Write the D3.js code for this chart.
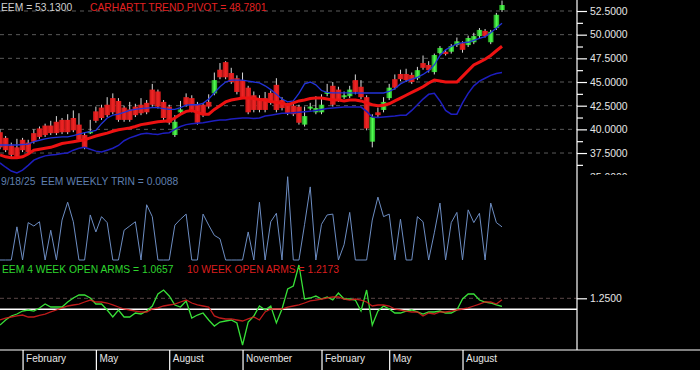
<!DOCTYPE html>
<html>
<head>
<meta charset="utf-8">
<title>EEM weekly</title>
<script src="https://d3js.org/d3.v7.min.js"></script>
<style>
    body { margin: 0; padding: 0; background: #000; overflow: hidden; }
    svg { display: block; font-family: "Liberation Sans", Arial, sans-serif; }
    .lbl { white-space: pre; font-size: 10.3px; }
</style>
</head>
<body>
<svg width="700" height="370"></svg>
<script>
// weekly bars, Fridays from Jan 5 2024 to Sep 19 2025 (90 bars)
var weeks = d3.timeFriday.range(new Date(2024, 0, 5), new Date(2025, 8, 20));

var openP = [39.7,39.1,38.3,38.1,38.9,38.6,39.6,40.1,40.4,40.4,
    40.8,41.0,41.0,41.2,40.5,39.4,39.6,41.9,42.3,42.6,
    43.3,43.0,42.3,42.1,42.4,42.6,42.8,44.2,44.0,42.9,
    42.4,39.4,41.8,43.4,43.3,42.6,42.6,42.9,43.8,46.3,
    47.1,45.95,45.4,45.2,44.4,43.6,43.3,43.3,43.85,44.7,
    43.1,42.6,42.5,42.4,40.5,42.2,41.8,41.8,43.75,44.6,
    44.2,43.4,43.5,45.2,44.5,43.4,38.7,41.8,42.05,43.3,
    45.3,45.85,45.85,45.75,45.4,47.0,46.8,46.05,48.05,48.2,
    48.2,48.9,49.1,48.9,49.2,49.85,50.4,49.2,50.7,52.6];
var highP = [40.0,39.3,38.6,39.0,39.1,38.9,40.0,40.3,40.6,40.9,
    41.4,41.2,41.6,42.0,41.7,39.6,41.0,42.4,42.6,43.4,
    43.8,43.3,42.5,42.9,42.7,43.3,43.1,44.8,44.2,43.1,
    42.6,41.5,43.0,43.8,43.6,42.9,42.8,43.7,46.0,47.0,
    47.2,46.5,45.7,46.0,44.6,44.0,43.6,43.95,44.1,45.4,
    43.4,42.8,42.7,42.6,42.4,42.8,43.5,43.7,44.8,45.0,
    44.5,44.0,44.6,45.8,45.2,43.6,41.6,42.3,43.4,44.8,
    45.8,46.3,46.4,46.0,46.6,47.8,47.2,48.0,48.8,48.4,
    49.0,49.7,49.3,49.9,50.2,50.7,50.6,50.5,52.3,53.6];
var lowP = [37.9,37.6,37.0,36.9,37.6,37.4,38.5,39.0,39.2,39.4,
    39.4,39.5,39.5,39.7,38.7,37.9,39.5,40.7,41.0,41.3,
    41.6,40.8,40.8,40.8,41.3,41.5,41.6,42.4,42.2,41.0,
    40.5,39.2,41.6,42.4,41.8,40.5,41.3,42.2,43.6,45.3,
    45.3,44.8,43.7,43.2,41.6,41.8,41.8,41.8,42.6,41.8,
    42.0,41.5,41.4,40.5,40.3,42.0,41.6,41.6,43.5,42.4,
    42.9,43.2,43.3,43.7,43.2,39.9,38.1,41.2,41.8,43.1,
    44.2,45.1,45.0,44.8,45.2,46.3,46.0,45.8,47.9,47.8,
    48.0,48.7,48.1,48.7,49.0,49.6,49.7,49.0,50.5,52.4];
var closeP = [38.1,37.8,37.3,37.1,37.8,37.6,38.7,39.2,39.4,39.6,
    39.6,39.7,39.7,39.9,38.9,38.1,39.8,40.9,41.2,41.5,
    41.8,41.0,41.0,41.0,41.5,41.7,41.8,42.6,42.4,41.2,
    40.7,40.8,42.1,42.6,42.0,40.7,41.5,42.4,45.2,45.5,
    45.5,45.0,43.95,43.4,41.8,42.05,42.05,42.05,42.8,42.05,
    42.25,41.7,41.6,40.7,41.4,42.4,42.25,42.6,43.95,42.6,
    43.1,43.6,44.2,43.95,43.4,40.1,41.3,41.5,42.9,44.4,
    44.4,45.3,45.2,45.0,46.25,46.5,46.25,47.85,48.6,47.95,
    48.8,49.3,48.4,49.65,49.85,50.5,49.85,50.3,52.1,53.13];

var trendPivot = [37.3,37.1,37.0,37.0,37.1,37.4,37.8,37.9,38.0,38.1,
    38.3,38.5,38.6,38.7,38.8,38.9,39.1,39.3,39.45,39.6,
    39.8,39.95,40.05,40.15,40.3,40.5,40.6,40.7,40.8,40.85,
    40.9,41.2,41.6,41.9,42.0,41.8,41.6,41.6,42.1,42.5,
    42.9,43.1,43.2,43.3,43.3,43.25,43.15,43.1,42.95,42.85,
    42.75,42.6,42.8,43.0,43.1,43.25,43.3,43.3,43.2,43.1,
    43.1,43.0,43.1,43.1,43.0,42.8,42.6,42.5,42.55,42.7,
    43.0,43.3,43.6,43.9,44.2,44.5,44.9,45.2,45.1,45.0,
    45.0,45.0,45.6,46.2,46.8,47.1,47.4,47.8,48.3,48.7801];
var bandHigh = [38.35,38.35,38.35,38.35,38.4,38.45,38.7,38.85,39.0,39.1,
    39.15,39.2,39.2,39.35,39.5,39.65,39.75,39.9,40.6,41.2,
    41.5,41.6,41.8,42.0,42.1,42.2,42.25,42.3,42.3,42.2,
    42.1,42.1,42.3,42.55,42.6,42.6,42.75,43.2,43.85,44.5,
    45.0,45.2,45.2,45.2,45.1,45.0,44.9,44.6,44.2,43.7,
    43.2,42.9,43.0,43.8,44.8,45.0,44.7,44.1,43.9,43.85,
    43.85,43.85,43.85,43.84,43.84,43.84,43.84,43.84,43.84,44.0,
    44.3,44.8,45.1,45.3,45.5,45.8,46.2,46.8,47.8,48.4,
    48.75,49.0,49.15,49.2,49.4,49.6,49.8,50.2,50.7,51.2];
var bandLow = [36.45,36.0,35.6,35.4,35.7,36.2,36.75,37.0,37.2,37.3,
    37.35,37.45,37.5,37.8,38.0,38.1,37.9,37.7,37.6,37.8,
    38.0,38.3,38.8,39.1,39.3,39.5,39.6,39.5,39.45,39.6,
    39.65,40.0,40.3,40.5,40.6,40.65,40.7,40.8,40.9,41.0,
    41.0,41.1,41.15,41.2,41.2,41.15,41.2,41.4,41.5,41.6,
    41.7,41.7,41.75,41.8,41.85,41.9,42.0,42.1,42.2,42.25,
    42.3,42.35,42.35,42.35,42.35,41.9,41.3,41.25,41.3,41.35,
    41.4,41.5,41.5,42.0,42.6,43.2,43.7,43.8,43.0,42.0,
    41.6,41.6,42.8,43.8,44.6,45.1,45.4,45.7,45.9,46.0];

var trin = [0,0,0,0.39,0,0.44,0.40,0.45,0,0.35,
    0,0.47,0.68,0.45,0,0,0.53,0.33,0.51,0.44,
    0,0,0.35,0.40,0.45,0,0.65,0.51,0,0,
    0,0.41,0.48,0.54,0,0,0.54,0.41,0.29,0.25,
    0,0,0,0,0.33,0,0.68,0,0.45,0.55,
    0,0.98,0,0,0.42,0.86,0,0.42,0.53,0.54,
    0,0.18,0.56,0,0,0,0.47,0.74,0.51,0.54,
    0,0.48,0,0,0.51,0.45,0,0.32,0.67,0,
    0.44,0.56,0,0.59,0.44,0.55,0,0.67,0.44,0.39];

var arms4 = [0.643,0.757,0.848,0.893,0.961,0.984,0.961,1.030,1.120,1.052,
    1.052,1.052,1.166,1.257,1.325,1.325,1.257,1.120,1.120,0.984,
    0.825,0.984,0.825,0.825,0.916,0.893,0.961,1.075,1.348,1.439,
    1.302,1.098,1.052,1.189,0.802,0.870,0.916,0.757,0.620,0.711,
    0.734,0.757,0.689,0.189,0.711,0.848,1.075,0.984,1.075,0.689,
    1.007,1.461,1.530,2.007,1.234,1.257,1.302,1.234,1.280,1.211,
    1.370,1.234,1.234,1.211,0.961,1.439,0.643,0.961,1.075,1.007,
    0.916,0.916,0.961,0.984,0.939,0.893,0.939,0.939,0.961,0.916,
    0.916,0.984,1.234,1.348,1.348,1.211,1.166,1.143,1.098,1.0657];
var arms10 = [0.757,0.802,0.825,0.850,0.870,0.825,0.825,0.860,0.893,0.939,
    0.984,1.030,1.075,1.098,1.120,1.166,1.211,1.166,1.166,1.143,
    1.098,1.052,1.007,0.984,0.961,0.939,0.939,1.007,1.030,1.075,
    1.098,1.120,1.166,1.211,1.143,1.098,1.075,1.052,0.850,0.802,
    0.780,0.780,0.757,0.734,0.780,0.825,0.757,0.939,1.007,1.007,
    1.007,1.052,1.075,1.098,1.143,1.189,1.211,1.234,1.257,1.280,
    1.280,1.234,1.211,1.234,1.211,1.166,1.075,1.098,1.098,1.075,
    1.007,0.984,0.961,0.939,0.939,0.848,0.916,0.893,0.939,0.939,
    0.961,0.984,1.007,1.030,1.075,1.120,1.166,1.166,1.120,1.2173];

var priceTicks = [35, 37.5, 40, 42.5, 45, 47.5, 50, 52.5];
var priceMinor = [36.25, 38.75, 41.25, 43.75, 46.25, 48.75, 51.25];
var armsTicks = [1.25];
var quarterMonths = [1, 4, 7, 10];   // Feb, May, Aug, Nov

var fmt4 = d3.format(".4f");
var axisRight = 577;

var x = d3.scaleTime().domain([weeks[0], weeks[weeks.length - 1]]).range([0, 502]);
var yPrice = d3.scaleLinear().domain([35, 52.5]).range([176.7, 11]);
var yTrin = d3.scaleLinear().domain([0, 1]).range([260, 175]);
var yArms = d3.scaleLinear().domain([1, 1.25]).range([309.3, 298.3]);

var svg = d3.select("svg");
svg.append("rect").attr("width", 700).attr("height", 370).attr("fill", "#000");

var defs = svg.append("defs");
defs.append("clipPath").attr("id", "clipMain")
    .append("rect").attr("x", 0).attr("y", 0).attr("width", axisRight).attr("height", 175);
defs.append("clipPath").attr("id", "clipMainAxis")
    .append("rect").attr("x", axisRight - 5).attr("y", 0).attr("width", 130).attr("height", 175);

var gg = defs.append("linearGradient").attr("id", "gGreen");
gg.append("stop").attr("offset", "0%").attr("stop-color", "#1c8a1c");
gg.append("stop").attr("offset", "55%").attr("stop-color", "#52ff52");
gg.append("stop").attr("offset", "100%").attr("stop-color", "#22a822");
var gr = defs.append("linearGradient").attr("id", "gRed");
gr.append("stop").attr("offset", "0%").attr("stop-color", "#c01616");
gr.append("stop").attr("offset", "50%").attr("stop-color", "#f02424");
gr.append("stop").attr("offset", "100%").attr("stop-color", "#cc1a1a");

// ---------- main price panel ----------
var main = svg.append("g").attr("clip-path", "url(#clipMain)");

main.selectAll(".grid").data(priceTicks).enter().append("line")
    .attr("x1", 0).attr("x2", axisRight)
    .attr("y1", d => yPrice(d)).attr("y2", d => yPrice(d))
    .attr("stroke", "#5a5a5a").attr("stroke-dasharray", "4,4");

var idx = d3.range(weeks.length);

main.selectAll(".wick").data(idx).enter().append("line")
    .attr("x1", i => x(weeks[i])).attr("x2", i => x(weeks[i]))
    .attr("y1", i => yPrice(highP[i])).attr("y2", i => yPrice(lowP[i]))
    .attr("stroke", "#d8d8d8").attr("stroke-width", 1);

main.selectAll(".body").data(idx).enter().append("rect")
    .attr("x", i => x(weeks[i]) - 2.8)
    .attr("width", 5.6)
    .attr("y", i => yPrice(Math.max(openP[i], closeP[i])))
    .attr("height", i => Math.max(2, Math.abs(yPrice(openP[i]) - yPrice(closeP[i]))))
    .attr("fill", i => closeP[i] >= openP[i] ? "url(#gGreen)" : "url(#gRed)");

var priceLine = d3.line().x((d, i) => x(weeks[i])).y(d => yPrice(d));

main.append("path").attr("d", priceLine(bandLow))
    .attr("fill", "none").attr("stroke", "#1e1ec0").attr("stroke-width", 1.5);
main.append("path").attr("d", priceLine(bandHigh))
    .attr("fill", "none").attr("stroke", "#2233d8").attr("stroke-width", 1.3);
main.append("path").attr("d", priceLine(trendPivot))
    .attr("fill", "none").attr("stroke", "#ee1212").attr("stroke-width", 3);

// right price axis
var ax = svg.append("g").attr("clip-path", "url(#clipMainAxis)");
var axMinor = ax.append("g").attr("transform", "translate(" + axisRight + ",0)")
    .call(d3.axisRight(yPrice).tickValues(priceMinor).tickSize(6).tickFormat(""));
var axMajor = ax.append("g").attr("transform", "translate(" + axisRight + ",0)")
    .call(d3.axisRight(yPrice).tickValues(priceTicks).tickSize(10).tickPadding(3).tickFormat(fmt4));

// ---------- TRIN panel ----------
var trinLine = d3.line().x((d, i) => x(weeks[i])).y(d => yTrin(d));
svg.append("path").attr("d", trinLine(trin))
    .attr("fill", "none").attr("stroke", "#6d8dc2").attr("stroke-width", 1);

// ---------- open arms panel ----------
svg.append("line").attr("x1", 0).attr("x2", axisRight)
    .attr("y1", yArms(1.25)).attr("y2", yArms(1.25))
    .attr("stroke", "#5a4848").attr("stroke-dasharray", "4,3");
svg.append("line").attr("x1", 0).attr("x2", axisRight)
    .attr("y1", yArms(1)).attr("y2", yArms(1))
    .attr("stroke", "#ffffff").attr("stroke-width", 1.5);

var armsLine = d3.line().x((d, i) => x(weeks[i])).y(d => yArms(d));
svg.append("path").attr("d", armsLine(arms4))
    .attr("fill", "none").attr("stroke", "#38e038").attr("stroke-width", 1.3);
svg.append("path").attr("d", armsLine(arms10))
    .attr("fill", "none").attr("stroke", "#e02020").attr("stroke-width", 1.3)
    .attr("stroke-opacity", 0.85);

var axArms = svg.append("g").attr("transform", "translate(" + axisRight + ",0)")
    .call(d3.axisRight(yArms).tickValues(armsTicks).tickSize(10).tickPadding(3).tickFormat(fmt4));

// ---------- frame + time axis ----------
svg.append("line").attr("x1", axisRight).attr("x2", axisRight).attr("y1", 0).attr("y2", 350)
    .attr("stroke", "#fff").attr("stroke-width", 1.2);
svg.append("line").attr("x1", 0).attr("x2", 700).attr("y1", 350).attr("y2", 350)
    .attr("stroke", "#fff").attr("stroke-width", 1.2);

var monthTicks = weeks.filter(d => quarterMonths.indexOf(d.getMonth()) >= 0 && d.getDate() <= 7);
var axX = svg.append("g").attr("transform", "translate(0,350)")
    .call(d3.axisBottom(x).tickValues(monthTicks).tickSize(20).tickFormat(d3.timeFormat("%B")));
axX.selectAll("text").attr("text-anchor", "start").attr("x", 3).attr("y", 5).attr("dy", "0.71em");

[axMinor, axMajor, axArms, axX].forEach(function(g) {
    g.select(".domain").remove();
    g.attr("font-size", 10.4).attr("font-family", "'Liberation Sans', Arial, sans-serif");
    g.selectAll("line").attr("stroke", "#fff").attr("stroke-width", 1.2);
    g.selectAll("text").attr("fill", "#e6e6e6");
});
axX.attr("font-size", 10);

// ---------- labels ----------
function label(txt, lx, ly, col) {
    svg.append("text").attr("class", "lbl").attr("x", lx).attr("y", ly)
        .attr("fill", col).text(txt);
}
label("EEM = " + fmt4(closeP[closeP.length - 1]), 1, 10.5, "#cfcfcf");
label("CARHARTT TREND PIVOT = " + fmt4(trendPivot[trendPivot.length - 1]), 90, 10.5, "#e42020");
label("9/18/25  EEM WEEKLY TRIN = 0.0088", 1, 185, "#5f7fae");
label("EEM 4 WEEK OPEN ARMS = " + fmt4(arms4[arms4.length - 1]), 2, 272.5, "#2ed62e");
label("10 WEEK OPEN ARMS = " + fmt4(arms10[arms10.length - 1]), 187, 272.5, "#dc1e1e");
</script>
</body>
</html>
